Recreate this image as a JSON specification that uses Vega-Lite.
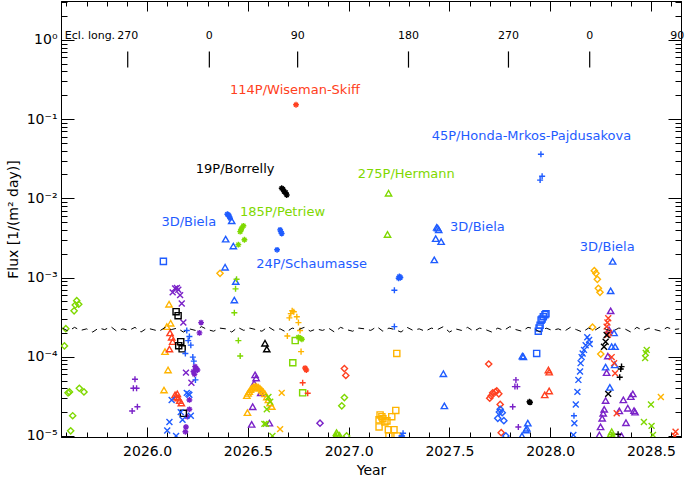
{
  "$schema": "https://vega.github.io/schema/vega-lite/v6.json",
  "width": 620,
  "height": 436,
  "autosize": "none",
  "padding": {"left": 61, "top": 1, "right": 4, "bottom": 41},
  "background": "white",
  "config": {
    "view": {"stroke": "black", "strokeWidth": 1},
    "axis": {"grid": false, "domainColor": "black", "tickColor": "black", "labelColor": "black", "titleColor": "black",
             "labelFont": "DejaVu Sans", "titleFont": "DejaVu Sans", "titleFontWeight": "normal", "labelFontSize": 14, "titleFontSize": 14,
             "labelFlush": false, "labelOverlap": false, "labelBound": false},
    "text": {"font": "DejaVu Sans"}
  },
  "datasets": {
    "pts": [
      {"t":2025.651,"f":5.1e-4,"c":"g","s":"dia"},{"t":2025.661,"f":4.6e-4,"c":"g","s":"dia"},{"t":2025.638,"f":3.8e-4,"c":"g","s":"dia"},{"t":2025.644,"f":4.5e-4,"c":"g","s":"dia"},
      {"t":2025.597,"f":2.26e-4,"c":"g","s":"dia"},{"t":2025.590,"f":1.37e-4,"c":"g","s":"dia"},{"t":2025.615,"f":3.6e-5,"c":"g","s":"dia"},{"t":2025.608,"f":3.5e-5,"c":"g","s":"dia"},
      {"t":2025.664,"f":4.0e-5,"c":"g","s":"dia"},{"t":2025.687,"f":3.6e-5,"c":"g","s":"dia"},{"t":2025.631,"f":1.8e-5,"c":"g","s":"dia"},{"t":2025.621,"f":1.16e-5,"c":"g","s":"dia"},
      {"t":2025.940,"f":5.2e-5,"c":"p","s":"plus"},{"t":2025.932,"f":4.0e-5,"c":"p","s":"plus"},{"t":2025.948,"f":4.0e-5,"c":"p","s":"plus"},{"t":2025.926,"f":2.07e-5,"c":"p","s":"plus"},{"t":2025.952,"f":2.34e-5,"c":"p","s":"plus"},
      {"t":2026.081,"f":1.6e-3,"c":"b","s":"sq"},
      {"t":2026.139,"f":7.3e-4,"c":"p","s":"x"},{"t":2026.127,"f":6.5e-4,"c":"p","s":"x"},{"t":2026.155,"f":7.0e-4,"c":"p","s":"x"},{"t":2026.148,"f":7.4e-4,"c":"p","s":"x"},
      {"t":2026.164,"f":6.0e-4,"c":"p","s":"x"},{"t":2026.172,"f":4.7e-4,"c":"p","s":"x"},{"t":2026.180,"f":2.7e-4,"c":"p","s":"x"},{"t":2026.193,"f":6.3e-5,"c":"p","s":"x"},{"t":2026.220,"f":4.7e-5,"c":"p","s":"x"},
      {"t":2026.268,"f":2.7e-4,"c":"p","s":"ast"},{"t":2026.260,"f":2.0e-4,"c":"p","s":"ast"},{"t":2026.243,"f":7.2e-5,"c":"p","s":"ast"},{"t":2026.230,"f":6.5e-5,"c":"p","s":"ast"},
      {"t":2026.238,"f":7.5e-5,"c":"p","s":"ast"},{"t":2026.250,"f":6.8e-5,"c":"p","s":"ast"},{"t":2026.235,"f":6.0e-5,"c":"p","s":"ast"},{"t":2026.210,"f":2.85e-5,"c":"p","s":"ast"},
      {"t":2026.210,"f":2.17e-5,"c":"p","s":"ast"},{"t":2026.200,"f":1.75e-5,"c":"p","s":"ast"},{"t":2026.193,"f":1.3e-5,"c":"p","s":"ast"},{"t":2026.190,"f":1.13e-5,"c":"p","s":"ast"},
      {"t":2026.109,"f":4.6e-4,"c":"y","s":"tri"},{"t":2026.117,"f":2.65e-4,"c":"y","s":"tri"},{"t":2026.098,"f":2.4e-4,"c":"y","s":"tri"},{"t":2026.089,"f":1.16e-4,"c":"y","s":"tri"},
      {"t":2026.104,"f":6.8e-5,"c":"y","s":"tri"},{"t":2026.084,"f":3.8e-5,"c":"y","s":"tri"},
      {"t":2026.114,"f":2.0e-4,"c":"r","s":"tri"},{"t":2026.122,"f":1.76e-4,"c":"r","s":"tri"},{"t":2026.127,"f":1.55e-4,"c":"r","s":"tri"},{"t":2026.111,"f":1.25e-4,"c":"r","s":"tri"},
      {"t":2026.139,"f":3.3e-5,"c":"r","s":"tri"},{"t":2026.147,"f":3.1e-5,"c":"r","s":"tri"},{"t":2026.155,"f":3.0e-5,"c":"r","s":"tri"},{"t":2026.162,"f":2.8e-5,"c":"r","s":"tri"},
      {"t":2026.170,"f":2.6e-5,"c":"r","s":"tri"},{"t":2026.150,"f":3.4e-5,"c":"r","s":"tri"},
      {"t":2026.144,"f":3.7e-4,"c":"k","s":"sq"},{"t":2026.154,"f":3.3e-4,"c":"k","s":"sq"},{"t":2026.167,"f":1.55e-4,"c":"k","s":"sq"},{"t":2026.157,"f":1.38e-4,"c":"k","s":"sq"},
      {"t":2026.174,"f":1.26e-4,"c":"k","s":"sq"},{"t":2026.180,"f":1.93e-5,"c":"k","s":"sq"},
      {"t":2026.197,"f":2.14e-4,"c":"b","s":"plus"},{"t":2026.210,"f":1.8e-4,"c":"b","s":"plus"},{"t":2026.204,"f":1.6e-4,"c":"b","s":"plus"},{"t":2026.217,"f":1.4e-4,"c":"b","s":"plus"},
      {"t":2026.190,"f":1.1e-4,"c":"b","s":"plus"},{"t":2026.227,"f":9.9e-5,"c":"b","s":"plus"},{"t":2026.232,"f":8.8e-5,"c":"b","s":"plus"},{"t":2026.240,"f":5.1e-5,"c":"b","s":"plus"},
      {"t":2026.197,"f":3.5e-5,"c":"b","s":"x"},{"t":2026.210,"f":3.3e-5,"c":"b","s":"x"},{"t":2026.122,"f":2.85e-5,"c":"b","s":"x"},{"t":2026.167,"f":2.0e-5,"c":"b","s":"x"},
      {"t":2026.217,"f":1.8e-5,"c":"b","s":"x"},{"t":2026.111,"f":1.5e-5,"c":"b","s":"x"},{"t":2026.100,"f":1.17e-5,"c":"b","s":"x"},{"t":2026.144,"f":1.0e-5,"c":"b","s":"x"},
      {"t":2026.176,"f":1.6e-5,"c":"b","s":"x"},{"t":2026.205,"f":3.4e-5,"c":"b","s":"x"},
      {"t":2026.362,"f":1.13e-3,"c":"y","s":"dia"},
      {"t":2026.387,"f":1.35e-3,"c":"b","s":"tri"},{"t":2026.390,"f":3.05e-3,"c":"b","s":"tri"},{"t":2026.428,"f":2.5e-3,"c":"b","s":"tri"},{"t":2026.420,"f":5.2e-3,"c":"b","s":"tri"},
      {"t":2026.440,"f":8.9e-4,"c":"b","s":"tri"},{"t":2026.433,"f":5.2e-4,"c":"b","s":"tri"},
      {"t":2026.403,"f":6.2e-3,"c":"b","s":"ast"},{"t":2026.412,"f":5.6e-3,"c":"b","s":"ast"},{"t":2026.407,"f":6.0e-3,"c":"b","s":"ast"},{"t":2026.398,"f":6.3e-3,"c":"b","s":"ast"},
      {"t":2026.470,"f":4.2e-3,"c":"g","s":"ast"},{"t":2026.462,"f":3.8e-3,"c":"g","s":"ast"},{"t":2026.478,"f":4.5e-3,"c":"g","s":"ast"},{"t":2026.466,"f":4.0e-3,"c":"g","s":"ast"},
      {"t":2026.483,"f":3.0e-3,"c":"g","s":"ast"},{"t":2026.453,"f":2.6e-3,"c":"g","s":"ast"},
      {"t":2026.444,"f":9.5e-4,"c":"g","s":"plus"},{"t":2026.439,"f":7.2e-4,"c":"g","s":"plus"},{"t":2026.433,"f":3.6e-4,"c":"g","s":"plus"},{"t":2026.453,"f":1.6e-4,"c":"g","s":"plus"},{"t":2026.462,"f":1.02e-4,"c":"g","s":"plus"},
      {"t":2026.668,"f":0.0134,"c":"k","s":"ast"},{"t":2026.680,"f":0.0122,"c":"k","s":"ast"},{"t":2026.693,"f":0.011,"c":"k","s":"ast"},{"t":2026.674,"f":0.013,"c":"k","s":"ast"},{"t":2026.688,"f":0.0118,"c":"k","s":"ast"},
      {"t":2026.739,"f":0.152,"c":"r","s":"ast"},
      {"t":2026.660,"f":4.0e-3,"c":"b","s":"ast"},{"t":2026.668,"f":3.6e-3,"c":"b","s":"ast"},{"t":2026.664,"f":3.8e-3,"c":"b","s":"ast"},{"t":2026.645,"f":2.24e-3,"c":"b","s":"ast"},
      {"t":2026.585,"f":1.48e-4,"c":"k","s":"tri"},{"t":2026.594,"f":1.25e-4,"c":"k","s":"tri"},
      {"t":2026.720,"f":3.8e-4,"c":"y","s":"plus"},{"t":2026.713,"f":3.5e-4,"c":"y","s":"plus"},{"t":2026.728,"f":3.7e-4,"c":"y","s":"plus"},{"t":2026.706,"f":3.1e-4,"c":"y","s":"plus"},
      {"t":2026.743,"f":3.2e-4,"c":"y","s":"plus"},{"t":2026.751,"f":2.7e-4,"c":"y","s":"plus"},{"t":2026.759,"f":2.14e-4,"c":"y","s":"plus"},{"t":2026.696,"f":1.83e-4,"c":"y","s":"plus"},{"t":2026.764,"f":1.16e-4,"c":"y","s":"plus"},
      {"t":2026.751,"f":1.76e-4,"c":"g","s":"ast"},{"t":2026.768,"f":1.66e-4,"c":"g","s":"ast"},{"t":2026.760,"f":1.72e-4,"c":"g","s":"ast"},
      {"t":2026.735,"f":1.6e-4,"c":"g","s":"sq"},{"t":2026.723,"f":8.4e-5,"c":"g","s":"sq"},{"t":2026.772,"f":3.5e-5,"c":"g","s":"sq"},
      {"t":2026.784,"f":7.2e-5,"c":"r","s":"ast"},{"t":2026.790,"f":6.8e-5,"c":"r","s":"ast"},
      {"t":2026.772,"f":4.7e-5,"c":"r","s":"plus"},{"t":2026.797,"f":3.46e-5,"c":"r","s":"plus"},
      {"t":2026.979,"f":7.1e-5,"c":"r","s":"dia"},{"t":2026.986,"f":5.8e-5,"c":"r","s":"dia"},
      {"t":2026.979,"f":3.05e-5,"c":"g","s":"dia"},{"t":2026.966,"f":2.4e-5,"c":"g","s":"dia"},{"t":2026.990,"f":1.0e-5,"c":"g","s":"dia"},
      {"t":2026.858,"f":1.45e-5,"c":"p","s":"dia"},
      {"t":2026.536,"f":5.9e-5,"c":"p","s":"tri"},{"t":2026.541,"f":5.4e-5,"c":"p","s":"tri"},{"t":2026.531,"f":4.6e-5,"c":"p","s":"tri"},{"t":2026.524,"f":2.34e-5,"c":"p","s":"tri"},
      {"t":2026.519,"f":1.4e-5,"c":"p","s":"tri"},{"t":2026.607,"f":1.45e-5,"c":"p","s":"tri"},{"t":2026.564,"f":3.5e-5,"c":"p","s":"tri"},
      {"t":2026.495,"f":3.23e-5,"c":"y","s":"tri"},{"t":2026.501,"f":3.45e-5,"c":"y","s":"tri"},{"t":2026.507,"f":3.63e-5,"c":"y","s":"tri"},{"t":2026.513,"f":3.85e-5,"c":"y","s":"tri"},
      {"t":2026.519,"f":4.0e-5,"c":"y","s":"tri"},{"t":2026.527,"f":4.15e-5,"c":"y","s":"tri"},{"t":2026.536,"f":4.2e-5,"c":"y","s":"tri"},{"t":2026.544,"f":4.2e-5,"c":"y","s":"tri"},
      {"t":2026.552,"f":4.1e-5,"c":"y","s":"tri"},{"t":2026.560,"f":4.0e-5,"c":"y","s":"tri"},{"t":2026.569,"f":3.8e-5,"c":"y","s":"tri"},{"t":2026.577,"f":3.6e-5,"c":"y","s":"tri"},
      {"t":2026.585,"f":3.4e-5,"c":"y","s":"tri"},{"t":2026.594,"f":3.1e-5,"c":"y","s":"tri"},{"t":2026.602,"f":2.85e-5,"c":"y","s":"tri"},{"t":2026.610,"f":2.6e-5,"c":"y","s":"tri"},
      {"t":2026.619,"f":2.35e-5,"c":"y","s":"tri"},{"t":2026.498,"f":1.97e-5,"c":"y","s":"tri"},
      {"t":2026.602,"f":3.1e-5,"c":"g","s":"x"},{"t":2026.611,"f":2.7e-5,"c":"g","s":"x"},{"t":2026.594,"f":2.17e-5,"c":"g","s":"x"},{"t":2026.582,"f":1.42e-5,"c":"g","s":"x"},
      {"t":2026.590,"f":1.42e-5,"c":"g","s":"x"},{"t":2026.622,"f":1.0e-5,"c":"g","s":"x"},
      {"t":2026.668,"f":3.5e-5,"c":"y","s":"x"},{"t":2026.660,"f":1.22e-5,"c":"y","s":"x"},
      {"t":2026.940,"f":1.1e-5,"c":"g","s":"tri"},{"t":2026.935,"f":1.0e-5,"c":"g","s":"tri"},{"t":2026.955,"f":1.02e-5,"c":"g","s":"tri"},{"t":2026.945,"f":1.05e-5,"c":"g","s":"tri"},
      {"t":2027.198,"f":0.0116,"c":"g","s":"tri"},{"t":2027.193,"f":3.5e-3,"c":"g","s":"tri"},
      {"t":2027.239,"f":1.1e-4,"c":"y","s":"sq"},{"t":2027.156,"f":1.84e-5,"c":"y","s":"sq"},{"t":2027.165,"f":1.75e-5,"c":"y","s":"sq"},{"t":2027.151,"f":1.6e-5,"c":"y","s":"sq"},
      {"t":2027.180,"f":1.5e-5,"c":"y","s":"sq"},{"t":2027.190,"f":1.55e-5,"c":"y","s":"sq"},{"t":2027.214,"f":1.75e-5,"c":"y","s":"sq"},{"t":2027.234,"f":2.1e-5,"c":"y","s":"sq"},
      {"t":2027.151,"f":1.3e-5,"c":"y","s":"sq"},{"t":2027.197,"f":1.2e-5,"c":"y","s":"sq"},{"t":2027.225,"f":1.2e-5,"c":"y","s":"sq"},{"t":2027.240,"f":1.0e-5,"c":"y","s":"sq"},
      {"t":2027.200,"f":1.0e-5,"c":"y","s":"sq"},{"t":2027.170,"f":1.65e-5,"c":"y","s":"sq"},
      {"t":2027.252,"f":1.03e-3,"c":"b","s":"ast"},{"t":2027.248,"f":9.8e-4,"c":"b","s":"ast"},{"t":2027.257,"f":1.0e-3,"c":"b","s":"ast"},
      {"t":2027.227,"f":6.9e-4,"c":"b","s":"plus"},{"t":2027.227,"f":2.4e-4,"c":"b","s":"plus"},
      {"t":2027.265,"f":1.0e-5,"c":"b","s":"plus"},{"t":2027.270,"f":1.08e-5,"c":"b","s":"plus"},{"t":2027.262,"f":1.0e-5,"c":"b","s":"plus"},
      {"t":2027.442,"f":4.2e-3,"c":"b","s":"tri"},{"t":2027.447,"f":4.0e-3,"c":"b","s":"tri"},{"t":2027.437,"f":4.3e-3,"c":"b","s":"tri"},{"t":2027.432,"f":3.1e-3,"c":"b","s":"tri"},
      {"t":2027.459,"f":2.84e-3,"c":"b","s":"tri"},{"t":2027.425,"f":1.67e-3,"c":"b","s":"tri"},{"t":2027.470,"f":6.1e-5,"c":"b","s":"tri"},{"t":2027.475,"f":2.4e-5,"c":"b","s":"tri"},
      {"t":2027.695,"f":8.1e-5,"c":"r","s":"dia"},{"t":2027.707,"f":3.2e-5,"c":"r","s":"dia"},{"t":2027.715,"f":3.5e-5,"c":"r","s":"dia"},{"t":2027.728,"f":3.6e-5,"c":"r","s":"dia"},
      {"t":2027.745,"f":3.4e-5,"c":"r","s":"dia"},{"t":2027.700,"f":3.0e-5,"c":"r","s":"dia"},{"t":2027.735,"f":3.7e-5,"c":"r","s":"dia"},{"t":2027.752,"f":2.5e-5,"c":"r","s":"dia"},{"t":2027.757,"f":1.1e-5,"c":"r","s":"dia"},
      {"t":2027.752,"f":2.17e-5,"c":"b","s":"dia"},{"t":2027.762,"f":1.97e-5,"c":"b","s":"dia"},{"t":2027.740,"f":1.67e-5,"c":"b","s":"dia"},{"t":2027.770,"f":1.56e-5,"c":"b","s":"dia"},
      {"t":2027.780,"f":1.0e-5,"c":"b","s":"dia"},{"t":2027.748,"f":2.0e-5,"c":"b","s":"dia"},
      {"t":2027.830,"f":5.1e-5,"c":"p","s":"plus"},{"t":2027.825,"f":4.2e-5,"c":"p","s":"plus"},{"t":2027.837,"f":4.2e-5,"c":"p","s":"plus"},{"t":2027.814,"f":2.34e-5,"c":"p","s":"plus"},{"t":2027.842,"f":1.3e-5,"c":"p","s":"plus"},
      {"t":2027.867,"f":1.0e-4,"c":"b","s":"tri"},{"t":2027.862,"f":1.02e-4,"c":"b","s":"tri"},{"t":2027.889,"f":1.45e-5,"c":"b","s":"tri"},{"t":2027.880,"f":1.19e-5,"c":"b","s":"tri"},
      {"t":2027.884,"f":1.25e-5,"c":"b","s":"tri"},{"t":2027.860,"f":1.0e-5,"c":"b","s":"tri"},
      {"t":2027.897,"f":2.7e-5,"c":"k","s":"ast"},{"t":2027.900,"f":2.65e-5,"c":"k","s":"ast"},
      {"t":2027.933,"f":1.1e-4,"c":"b","s":"sq"},{"t":2027.941,"f":2.1e-4,"c":"b","s":"sq"},{"t":2027.950,"f":2.5e-4,"c":"b","s":"sq"},{"t":2027.955,"f":2.9e-4,"c":"b","s":"sq"},
      {"t":2027.966,"f":3.2e-4,"c":"b","s":"sq"},{"t":2027.974,"f":3.4e-4,"c":"b","s":"sq"},{"t":2027.979,"f":3.5e-4,"c":"b","s":"sq"},{"t":2027.945,"f":2.3e-4,"c":"b","s":"sq"},{"t":2027.960,"f":3.0e-4,"c":"b","s":"sq"},
      {"t":2027.991,"f":6.8e-5,"c":"r","s":"tri"},{"t":2027.995,"f":6.4e-5,"c":"r","s":"tri"},{"t":2027.995,"f":3.7e-5,"c":"r","s":"tri"},{"t":2027.973,"f":3.3e-5,"c":"r","s":"tri"},
      {"t":2027.954,"f":0.036,"c":"b","s":"plus"},{"t":2027.960,"f":0.019,"c":"b","s":"plus"},{"t":2027.950,"f":0.017,"c":"b","s":"plus"},
      {"t":2028.115,"f":1.03e-5,"c":"b","s":"x"},{"t":2028.120,"f":1.45e-5,"c":"b","s":"x"},{"t":2028.118,"f":1.8e-5,"c":"b","s":"plus"},{"t":2028.127,"f":2.5e-5,"c":"b","s":"x"},
      {"t":2028.135,"f":3.6e-5,"c":"b","s":"x"},{"t":2028.140,"f":5.1e-5,"c":"b","s":"x"},{"t":2028.148,"f":6.5e-5,"c":"b","s":"x"},{"t":2028.151,"f":8.3e-5,"c":"b","s":"x"},
      {"t":2028.156,"f":9.9e-5,"c":"b","s":"x"},{"t":2028.161,"f":1.1e-4,"c":"b","s":"x"},{"t":2028.168,"f":1.22e-4,"c":"b","s":"x"},{"t":2028.176,"f":1.4e-4,"c":"b","s":"x"},
      {"t":2028.184,"f":1.76e-4,"c":"b","s":"x"},{"t":2028.193,"f":1.63e-4,"c":"b","s":"x"},{"t":2028.196,"f":1.45e-4,"c":"b","s":"x"},
      {"t":2028.219,"f":1.22e-3,"c":"y","s":"dia"},{"t":2028.227,"f":1.13e-3,"c":"y","s":"dia"},{"t":2028.234,"f":9.5e-4,"c":"y","s":"dia"},{"t":2028.239,"f":7.3e-4,"c":"y","s":"dia"},
      {"t":2028.247,"f":6.5e-4,"c":"y","s":"dia"},{"t":2028.210,"f":2.36e-4,"c":"y","s":"dia"},{"t":2028.251,"f":1.08e-4,"c":"y","s":"dia"},
      {"t":2028.310,"f":1.6e-3,"c":"b","s":"tri"},{"t":2028.300,"f":6.8e-4,"c":"b","s":"tri"},{"t":2028.317,"f":2.0e-4,"c":"b","s":"tri"},{"t":2028.305,"f":1.34e-4,"c":"b","s":"tri"},
      {"t":2028.322,"f":1.34e-4,"c":"b","s":"tri"},{"t":2028.320,"f":7.9e-5,"c":"b","s":"tri"},{"t":2028.275,"f":7.4e-5,"c":"b","s":"tri"},{"t":2028.296,"f":4.1e-5,"c":"b","s":"tri"},
      {"t":2028.300,"f":3.8e-4,"c":"p","s":"tri"},{"t":2028.292,"f":2.19e-4,"c":"p","s":"tri"},{"t":2028.286,"f":1.02e-4,"c":"p","s":"tri"},{"t":2028.280,"f":6.3e-5,"c":"p","s":"tri"},
      {"t":2028.275,"f":2.8e-5,"c":"p","s":"tri"},{"t":2028.268,"f":2.17e-5,"c":"p","s":"tri"},{"t":2028.263,"f":1.93e-5,"c":"p","s":"tri"},{"t":2028.258,"f":1.67e-5,"c":"p","s":"tri"},
      {"t":2028.250,"f":1.3e-5,"c":"p","s":"tri"},{"t":2028.244,"f":1.03e-5,"c":"p","s":"tri"},{"t":2028.363,"f":2.85e-5,"c":"p","s":"tri"},{"t":2028.343,"f":2.07e-5,"c":"p","s":"tri"},
      {"t":2028.385,"f":2.24e-5,"c":"p","s":"tri"},{"t":2028.400,"f":3.14e-5,"c":"p","s":"tri"},{"t":2028.410,"f":3.4e-5,"c":"p","s":"tri"},{"t":2028.416,"f":2.09e-5,"c":"p","s":"tri"},
      {"t":2028.421,"f":2.0e-5,"c":"p","s":"tri"},{"t":2028.376,"f":1.47e-5,"c":"p","s":"tri"},{"t":2028.354,"f":1.0e-5,"c":"p","s":"tri"},
      {"t":2028.288,"f":3.06e-4,"c":"r","s":"x"},{"t":2028.284,"f":2.7e-4,"c":"r","s":"x"},{"t":2028.280,"f":2.4e-4,"c":"r","s":"x"},{"t":2028.292,"f":2.0e-4,"c":"r","s":"x"},
      {"t":2028.286,"f":1.9e-4,"c":"r","s":"x"},{"t":2028.305,"f":9.9e-5,"c":"r","s":"x"},{"t":2028.317,"f":8.3e-5,"c":"r","s":"x"},{"t":2028.322,"f":6.2e-5,"c":"r","s":"x"},{"t":2028.330,"f":1.93e-5,"c":"r","s":"x"},
      {"t":2028.280,"f":1.88e-4,"c":"k","s":"x"},{"t":2028.275,"f":1.55e-4,"c":"k","s":"x"},{"t":2028.267,"f":1.34e-4,"c":"k","s":"x"},{"t":2028.288,"f":3.4e-5,"c":"k","s":"x"},
      {"t":2028.354,"f":7.5e-5,"c":"k","s":"plus"},{"t":2028.350,"f":7.0e-5,"c":"k","s":"plus"},{"t":2028.345,"f":5.5e-5,"c":"k","s":"plus"},{"t":2028.337,"f":1.05e-5,"c":"k","s":"plus"},
      {"t":2028.305,"f":1.13e-5,"c":"g","s":"tri"},{"t":2028.300,"f":1.05e-5,"c":"g","s":"tri"},{"t":2028.310,"f":1.0e-5,"c":"g","s":"tri"},
      {"t":2028.479,"f":1.22e-4,"c":"g","s":"x"},{"t":2028.474,"f":1.12e-4,"c":"g","s":"x"},{"t":2028.471,"f":9.6e-5,"c":"g","s":"x"},{"t":2028.500,"f":2.5e-5,"c":"g","s":"x"},
      {"t":2028.465,"f":1.5e-5,"c":"g","s":"x"},{"t":2028.503,"f":1.34e-5,"c":"g","s":"x"},{"t":2028.510,"f":1.03e-5,"c":"g","s":"x"},
      {"t":2028.549,"f":3.1e-5,"c":"y","s":"x"},
      {"t":2028.622,"f":1.13e-5,"c":"r","s":"x"},{"t":2028.618,"f":1.0e-5,"c":"r","s":"x"}
    ],
    "bg": [
      {"t":2025.58,"f":2.3e-4},{"t":2025.61,"f":2.1e-4},{"t":2025.64,"f":2.35e-4},{"t":2025.67,"f":2.15e-4},{"t":2025.70,"f":2.25e-4},{"t":2025.73,"f":2.05e-4},
      {"t":2025.76,"f":2.3e-4},{"t":2025.79,"f":2.2e-4},{"t":2025.82,"f":2.4e-4},{"t":2025.85,"f":2.1e-4},{"t":2025.88,"f":2.25e-4},{"t":2025.91,"f":2.15e-4},
      {"t":2025.94,"f":2.35e-4},{"t":2025.97,"f":2.05e-4},{"t":2026.00,"f":2.3e-4},{"t":2026.03,"f":2.2e-4},{"t":2026.06,"f":2.1e-4},{"t":2026.09,"f":2.35e-4},
      {"t":2026.12,"f":2.2e-4},{"t":2026.15,"f":2.3e-4},{"t":2026.18,"f":2.05e-4},{"t":2026.21,"f":2.25e-4},{"t":2026.24,"f":2.15e-4},{"t":2026.27,"f":2.4e-4},
      {"t":2026.30,"f":2.2e-4},{"t":2026.33,"f":2.1e-4},{"t":2026.36,"f":2.3e-4},{"t":2026.39,"f":2.25e-4},{"t":2026.42,"f":2.05e-4},{"t":2026.45,"f":2.35e-4},
      {"t":2026.48,"f":2.15e-4},{"t":2026.51,"f":2.3e-4},{"t":2026.54,"f":2.2e-4},{"t":2026.57,"f":2.1e-4},{"t":2026.60,"f":2.4e-4},{"t":2026.63,"f":2.15e-4},
      {"t":2026.66,"f":2.25e-4},{"t":2026.69,"f":2.05e-4},{"t":2026.72,"f":2.3e-4},{"t":2026.75,"f":2.2e-4},{"t":2026.78,"f":2.35e-4},{"t":2026.81,"f":2.1e-4},
      {"t":2026.84,"f":2.25e-4},{"t":2026.87,"f":2.15e-4},{"t":2026.90,"f":2.3e-4},{"t":2026.93,"f":2.05e-4},{"t":2026.96,"f":2.35e-4},{"t":2026.99,"f":2.2e-4},
      {"t":2027.02,"f":2.1e-4},{"t":2027.05,"f":2.3e-4},{"t":2027.08,"f":2.25e-4},{"t":2027.11,"f":2.15e-4},{"t":2027.14,"f":2.4e-4},{"t":2027.17,"f":2.1e-4},
      {"t":2027.20,"f":2.3e-4},{"t":2027.23,"f":2.2e-4},{"t":2027.26,"f":2.05e-4},{"t":2027.29,"f":2.35e-4},{"t":2027.32,"f":2.15e-4},{"t":2027.35,"f":2.25e-4},
      {"t":2027.38,"f":2.1e-4},{"t":2027.41,"f":2.3e-4},{"t":2027.44,"f":2.2e-4},{"t":2027.47,"f":2.4e-4},{"t":2027.50,"f":2.05e-4},{"t":2027.53,"f":2.25e-4},
      {"t":2027.56,"f":2.15e-4},{"t":2027.59,"f":2.35e-4},{"t":2027.62,"f":2.1e-4},{"t":2027.65,"f":2.3e-4},{"t":2027.68,"f":2.2e-4},{"t":2027.71,"f":2.05e-4},
      {"t":2027.74,"f":2.3e-4},{"t":2027.77,"f":2.15e-4},{"t":2027.80,"f":2.4e-4},{"t":2027.83,"f":2.2e-4},{"t":2027.86,"f":2.1e-4},{"t":2027.89,"f":2.35e-4},
      {"t":2027.92,"f":2.25e-4},{"t":2027.95,"f":2.05e-4},{"t":2027.98,"f":2.3e-4},{"t":2028.01,"f":2.15e-4},{"t":2028.04,"f":2.25e-4},{"t":2028.07,"f":2.1e-4},
      {"t":2028.10,"f":2.35e-4},{"t":2028.13,"f":2.2e-4},{"t":2028.16,"f":2.05e-4},{"t":2028.19,"f":2.3e-4},{"t":2028.22,"f":2.15e-4},{"t":2028.25,"f":2.4e-4},
      {"t":2028.28,"f":2.2e-4},{"t":2028.31,"f":2.1e-4},{"t":2028.34,"f":2.3e-4},{"t":2028.37,"f":2.25e-4},{"t":2028.40,"f":2.05e-4},{"t":2028.43,"f":2.35e-4},
      {"t":2028.46,"f":2.15e-4},{"t":2028.49,"f":2.3e-4},{"t":2028.52,"f":2.2e-4},{"t":2028.55,"f":2.1e-4},{"t":2028.58,"f":2.35e-4},{"t":2028.61,"f":2.2e-4},{"t":2028.64,"f":2.25e-4}
    ],
    "ecl": [
      {"t":2025.904,"lab":"270"},{"t":2026.309,"lab":"0"},{"t":2026.747,"lab":"90"},{"t":2027.297,"lab":"180"},
      {"t":2027.793,"lab":"270"},{"t":2028.196,"lab":"0"},{"t":2028.630,"lab":"90"}
    ],
    "labels": [
      {"t":2026.734,"f":0.234,"c":"r","txt":"114P/Wiseman-Skiff"},
      {"t":2026.437,"f":0.0235,"c":"k","txt":"19P/Borrelly"},
      {"t":2026.672,"f":0.0068,"c":"g","txt":"185P/Petriew"},
      {"t":2026.207,"f":0.00508,"c":"b","txt":"3D/Biela"},
      {"t":2026.816,"f":0.00147,"c":"b","txt":"24P/Schaumasse"},
      {"t":2027.286,"f":0.0203,"c":"g","txt":"275P/Hermann"},
      {"t":2027.907,"f":0.0614,"c":"b","txt":"45P/Honda-Mrkos-Pajdusakova"},
      {"t":2027.639,"f":0.00431,"c":"b","txt":"3D/Biela"},
      {"t":2028.283,"f":0.00241,"c":"b","txt":"3D/Biela"}
    ]
  },
  "layer": [
    {
      "data": {"name": "pts"},
      "mark": {"type": "point", "filled": false, "strokeWidth": 1.4, "clip": true, "opacity": 1},
      "encoding": {
        "x": {"field": "t", "type": "quantitative",
              "scale": {"domain": [2025.573, 2028.649], "nice": false, "zero": false},
              "axis": {"orient": "bottom", "title": "Year", "titlePadding": 0,
                       "values": [2025.6,2025.7,2025.8,2025.9,2026.0,2026.1,2026.2,2026.3,2026.4,2026.5,2026.6,2026.7,2026.8,2026.9,2027.0,2027.1,2027.2,2027.3,2027.4,2027.5,2027.6,2027.7,2027.8,2027.9,2028.0,2028.1,2028.2,2028.3,2028.4,2028.5,2028.6],
                       "labelExpr": "indexof([2026,2026.5,2027,2027.5,2028,2028.5], datum.value) >= 0 ? format(datum.value, '.1f') : ''",
                       "tickSize": {"condition": {"test": "indexof([2026,2026.5,2027,2027.5,2028,2028.5], datum.value) >= 0", "value": -10}, "value": -5},
                       "labelPadding": 17}},
        "y": {"field": "f", "type": "quantitative",
              "scale": {"type": "log", "domain": [0.0000097, 3.1], "nice": false},
              "axis": {"orient": "left", "title": "Flux [1/(m² day)]", "titlePadding": 6,
                       "values": [0.00001,0.00002,0.00003,0.00004,0.00005,0.00006,0.00007,0.00008,0.00009,0.0001,0.0002,0.0003,0.0004,0.0005,0.0006,0.0007,0.0008,0.0009,0.001,0.002,0.003,0.004,0.005,0.006,0.007,0.008,0.009,0.01,0.02,0.03,0.04,0.05,0.06,0.07,0.08,0.09,0.1,0.2,0.3,0.4,0.5,0.6,0.7,0.8,0.9,1,2,3],
                       "labelExpr": "datum.value==1?'10⁰':datum.value==0.1?'10⁻¹':datum.value==0.01?'10⁻²':datum.value==0.001?'10⁻³':datum.value==0.0001?'10⁻⁴':datum.value==0.00001?'10⁻⁵':''",
                       "tickSize": {"condition": {"test": "indexof([0.00001,0.0001,0.001,0.01,0.1,1], datum.value) >= 0", "value": -13}, "value": -6},
                       "labelPadding": 17}},
        "color": {"field": "c", "type": "nominal", "legend": null,
                  "scale": {"domain": ["b","r","g","y","p","k"], "range": ["#1f5cff","#ff4020","#7fd800","#ffb400","#7a22c8","#000000"]}},
        "shape": {"field": "s", "type": "nominal", "legend": null,
                  "scale": {"domain": ["tri","dia","sq","plus","x","ast"],
                            "range": ["triangle-up","diamond","square","M-1,0L1,0M0,-1L0,1","M-1,-1L1,1M-1,1L1,-1","M-1,0L1,0M0,-1L0,1M-0.7,-0.7L0.7,0.7M-0.7,0.7L0.7,-0.7"]}},
        "size": {"field": "s", "type": "nominal", "legend": null,
                 "scale": {"domain": ["tri","dia","sq","plus","x","ast"], "range": [40, 34, 42, 45, 36, 45]}}
      }
    },
    {
      "data": {"name": "bg"},
      "mark": {"type": "line", "color": "black", "strokeWidth": 1, "strokeDash": [6, 5], "clip": true},
      "encoding": {
        "x": {"field": "t", "type": "quantitative",
              "scale": {"domain": [2025.573, 2028.649], "nice": false, "zero": false},
              "axis": {"orient": "top", "title": null, "labels": false,
                       "values": [2025.6,2025.7,2025.8,2025.9,2026.0,2026.1,2026.2,2026.3,2026.4,2026.5,2026.6,2026.7,2026.8,2026.9,2027.0,2027.1,2027.2,2027.3,2027.4,2027.5,2027.6,2027.7,2027.8,2027.9,2028.0,2028.1,2028.2,2028.3,2028.4,2028.5,2028.6],
                       "tickSize": {"condition": {"test": "indexof([2026,2026.5,2027,2027.5,2028,2028.5], datum.value) >= 0", "value": -10}, "value": -5}}},
        "y": {"field": "f", "type": "quantitative",
              "scale": {"type": "log", "domain": [0.0000097, 3.1], "nice": false},
              "axis": {"orient": "right", "title": null, "labels": false,
                       "values": [0.00001,0.00002,0.00003,0.00004,0.00005,0.00006,0.00007,0.00008,0.00009,0.0001,0.0002,0.0003,0.0004,0.0005,0.0006,0.0007,0.0008,0.0009,0.001,0.002,0.003,0.004,0.005,0.006,0.007,0.008,0.009,0.01,0.02,0.03,0.04,0.05,0.06,0.07,0.08,0.09,0.1,0.2,0.3,0.4,0.5,0.6,0.7,0.8,0.9,1,2,3],
                       "tickSize": {"condition": {"test": "indexof([0.00001,0.0001,0.001,0.01,0.1,1], datum.value) >= 0", "value": -13}, "value": -6}}}
      }
    },
    {
      "data": {"name": "ecl"},
      "transform": [{"filter": "datum.t < 2028.62"}],
      "mark": {"type": "rule", "color": "black", "strokeWidth": 1.2},
      "encoding": {
        "x": {"field": "t", "type": "quantitative", "scale": {"domain": [2025.573, 2028.649], "nice": false, "zero": false}, "axis": null},
        "y": {"datum": 0.447, "type": "quantitative", "scale": {"type": "log", "domain": [0.0000097, 3.1], "nice": false}, "axis": null},
        "y2": {"datum": 0.716}
      }
    },
    {
      "data": {"name": "ecl"},
      "mark": {"type": "text", "fontSize": 11, "color": "black", "baseline": "middle", "align": "center"},
      "encoding": {
        "x": {"field": "t", "type": "quantitative", "scale": {"domain": [2025.573, 2028.649], "nice": false, "zero": false}, "axis": null},
        "y": {"datum": 1.12, "type": "quantitative", "scale": {"type": "log", "domain": [0.0000097, 3.1], "nice": false}, "axis": null},
        "text": {"field": "lab"}
      }
    },
    {
      "data": {"values": [{"t": 2025.592, "txt": "Ecl. long."}]},
      "mark": {"type": "text", "fontSize": 11, "color": "black", "baseline": "middle", "align": "left"},
      "encoding": {
        "x": {"field": "t", "type": "quantitative", "scale": {"domain": [2025.573, 2028.649], "nice": false, "zero": false}, "axis": null},
        "y": {"datum": 1.12, "type": "quantitative", "scale": {"type": "log", "domain": [0.0000097, 3.1], "nice": false}, "axis": null},
        "text": {"field": "txt"}
      }
    },
    {
      "data": {"name": "labels"},
      "mark": {"type": "text", "fontSize": 13, "baseline": "middle", "align": "center"},
      "encoding": {
        "x": {"field": "t", "type": "quantitative", "scale": {"domain": [2025.573, 2028.649], "nice": false, "zero": false}, "axis": null},
        "y": {"field": "f", "type": "quantitative", "scale": {"type": "log", "domain": [0.0000097, 3.1], "nice": false}, "axis": null},
        "text": {"field": "txt"},
        "color": {"field": "c", "type": "nominal", "legend": null,
                  "scale": {"domain": ["b","r","g","y","p","k"], "range": ["#1f5cff","#ff4020","#7fd800","#ffb400","#7a22c8","#000000"]}}
      }
    }
  ],
  "resolve": {"axis": {"x": "independent", "y": "independent"}}
}
